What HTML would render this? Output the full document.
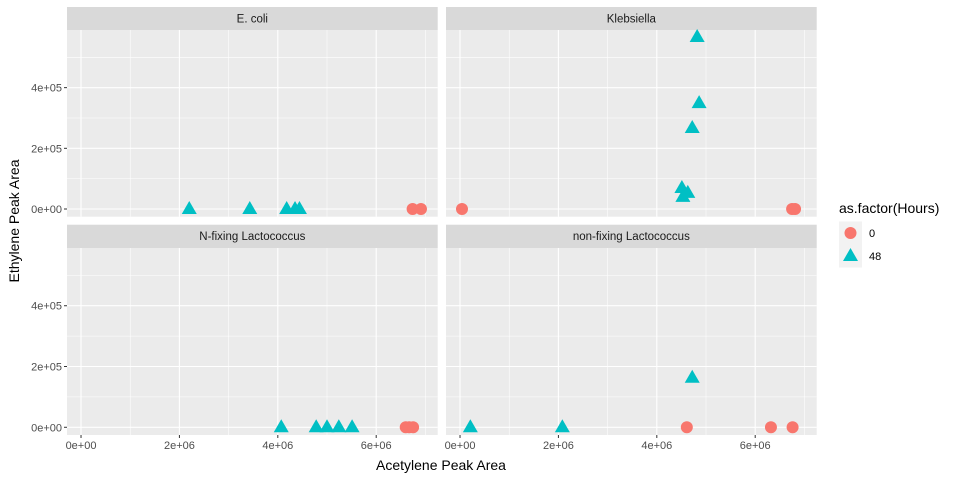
<!DOCTYPE html>
<html><head><meta charset="utf-8"><style>
body{margin:0;background:#fff}
svg{display:block;font-family:"Liberation Sans",Arial,sans-serif}
</style></head><body>
<svg id="c" width="960" height="480" xmlns="http://www.w3.org/2000/svg"></svg>
<script>
const facets=["E. coli","Klebsiella","N-fixing Lactococcus","non-fixing Lactococcus"];
const ecoliX=[2.2e6,3.43e6,4.18e6,4.35e6,4.44e6,6.74e6,6.91e6];
const ecoliY=[0,0,0,0,0,0,0];
const ecoliH=[48,48,48,48,48,0,0];
const klebX=[0.04e6,4.82e6,4.86e6,4.72e6,4.51e6,4.63e6,4.53e6,6.75e6,6.81e6];
const klebY=[0,5.67e5,3.49e5,2.67e5,0.69e5,0.53e5,0.4e5,0,0];
const klebH=[0,48,48,48,48,48,48,0,0];
const nfixX=[4.07e6,4.78e6,5.0e6,5.24e6,5.51e6,6.6e6,6.67e6,6.75e6];
const nfixY=[0,0,0,0,0,0,0,0];
const nfixH=[48,48,48,48,48,0,0,0];
const nonX=[0.21e6,2.08e6,4.72e6,4.61e6,6.32e6,6.76e6];
const nonY=[0,0,1.63e5,0,0,0];
const nonH=[48,48,48,0,0,0];
const xTicks=[0,2e6,4e6,6e6];
const xTickLabels=["0e+00","2e+06","4e+06","6e+06"];
const yTicks=[0,2e5,4e5];
const yTickLabels=["0e+00","2e+05","4e+05"];
const hourLevels=[0,48];

const NS="http://www.w3.org/2000/svg";
const svg=document.getElementById('c');
function el(t,a,p){const e=document.createElementNS(NS,t);for(const k in a)e.setAttribute(k,a[k]);(p||svg).appendChild(e);return e;}
const X0=-0.285e6,X1=7.25e6,Y0=-0.254e5,Y1=5.9e5;
const cols=[[67,437.7],[446,816.7]];
const rows=[[30,216.7,7],[248,435,224.7]];
const data=[[ecoliX,ecoliY,ecoliH],[klebX,klebY,klebH],[nfixX,nfixY,nfixH],[nonX,nonY,nonH]];
const colors={0:"#F8766D",48:"#00BFC4"};
function marker(g,h,cx,cy,name){
  let m;
  if(h===0){m=el('circle',{cx:cx,cy:cy,r:6,fill:colors[0]},g);}
  else{m=el('polygon',{points:`${cx},${cy-8} ${cx-7.5},${cy+5} ${cx+7.5},${cy+5}`,fill:colors[48]},g);}
  
  
}
facets.forEach((f,i)=>{
  const [xa,xb]=cols[i%2];const [ya,yb,st]=rows[Math.floor(i/2)];
  const sx=v=>xa+(v-X0)/(X1-X0)*(xb-xa);
  const sy=v=>yb-(v-Y0)/(Y1-Y0)*(yb-ya);
  const g=el('g',{});
  
  
  el('rect',{x:xa,y:st,width:xb-xa,height:ya-st,fill:'#D9D9D9'},g);
  const t=el('text',{x:(xa+xb)/2,y:st+15.5,'text-anchor':'middle','font-size':11.5,fill:'#1a1a1a'},g);t.textContent=f;
  
  
  el('rect',{x:xa,y:ya,width:xb-xa,height:yb-ya,fill:'#EBEBEB'},g);
  for(let v=-1e6;v<=8e6;v+=1e6){const x=sx(v);if(x<xa||x>xb)continue;
    el('line',{x1:x,x2:x,y1:ya,y2:yb,stroke:'#fff','stroke-width':(v%2e6===0)?1.1:0.55},g);}
  for(let v=-1e5;v<=7e5;v+=1e5){const y=sy(v);if(y<ya||y>yb)continue;
    el('line',{x1:xa,x2:xb,y1:y,y2:y,stroke:'#fff','stroke-width':(Math.round(v/1e5)%2===0)?1.1:0.55},g);}
  if(i%2===0){yTicks.forEach((v,k)=>{const y=sy(v);
    el('line',{x1:xa-3,x2:xa,y1:y,y2:y,stroke:'#333','stroke-width':1},g);
    const l=el('text',{x:xa-5,y:y+4,'text-anchor':'end','font-size':11,fill:'#4D4D4D'},g);l.textContent=yTickLabels[k];
    
    });}
  if(i>=2){xTicks.forEach((v,k)=>{const x=sx(v);
    el('line',{x1:x,x2:x,y1:yb,y2:yb+3,stroke:'#333','stroke-width':1},g);
    const l=el('text',{x:x,y:yb+14,'text-anchor':'middle','font-size':11,fill:'#4D4D4D'},g);l.textContent=xTickLabels[k];
    
    });}
  const [dx,dy,dh]=data[i];
  dx.forEach((v,k)=>marker(g,dh[k],sx(v),sy(dy[k]),'point-'+dh[k]+'h'));
});
let t=el('text',{x:441,y:470,'text-anchor':'middle','font-size':14,fill:'#000'});t.textContent="Acetylene Peak Area";

t=el('text',{x:0,y:0,'text-anchor':'middle','font-size':14,fill:'#000',transform:'translate(19,221) rotate(-90)'});t.textContent="Ethylene Peak Area";

const lg=el('g',{});


t=el('text',{x:839,y:213,'font-size':14,fill:'#000'},lg);t.textContent="as.factor(Hours)";

hourLevels.forEach((h,k)=>{const cy=233+k*23;
  el('rect',{x:839,y:cy-11.5,width:23,height:23,fill:'#F2F2F2'},lg);
  marker(lg,h,850.5,cy,'legend-key-'+h);
  const l=el('text',{x:869,y:cy+4,'font-size':11,fill:'#000'},lg);l.textContent=String(h);
  
});
</script>
</body></html>
